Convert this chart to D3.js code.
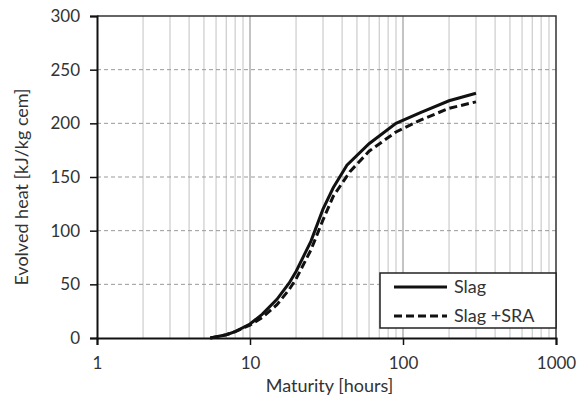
<!DOCTYPE html>
<html>
<head>
<meta charset="utf-8">
<script src="https://cdn.jsdelivr.net/npm/d3@7"></script>
<style>
  body { margin: 0; background: #fff; }
  text { font-family: Lato, "Open Sans", sans-serif; fill: #333; }
</style>
</head>
<body>
<div id="chart"></div>
<script>
let slag_x = [5.5, 7, 8, 10, 12, 15, 18, 20, 25, 30, 35, 43, 60, 90, 130, 200, 300];
let slag_y = [0, 3, 6, 13, 22, 36, 51, 62, 90, 120, 140, 161, 181, 200, 210, 221, 228];
let sra_x = [5.5, 7, 8, 10, 12, 15, 18, 20, 25, 30, 35, 45, 60, 90, 130, 200, 300];
let sra_y = [0, 3, 6, 12, 19, 31, 45, 55, 82, 110, 132, 155, 174, 192, 203, 214, 220];
let series_names = ["Slag", "Slag +SRA"];
let y_ticks = [0, 50, 100, 150, 200, 250, 300];
let x_ticks = [1, 10, 100, 1000];

let width = 579, height = 403;
let plot_left = 97, plot_right = 556, plot_top = 16, plot_bottom = 338;

let svg = d3.select("#chart").append("svg")
  .attr("width", width).attr("height", height);

let x = d3.scaleLog().domain([1, 1000]).range([plot_left, plot_right]);
let y = d3.scaleLinear().domain([0, 300]).range([plot_bottom, plot_top]);

// minor vertical grid
let minor = [];
for (let d = 1; d < 1000; d *= 10) {
  for (let k = 2; k <= 9; k++) minor.push(d * k);
}
svg.selectAll(".minor").data(minor).enter().append("line")
  .attr("x1", d => x(d)).attr("x2", d => x(d))
  .attr("y1", plot_top).attr("y2", plot_bottom)
  .style("stroke", "#d0d0d0").style("stroke-width", 1.3);

// major vertical grid
svg.selectAll(".major").data([10, 100]).enter().append("line")
  .attr("x1", d => x(d)).attr("x2", d => x(d))
  .attr("y1", plot_top).attr("y2", plot_bottom)
  .style("stroke", "#888").style("stroke-width", 1);

// horizontal dashed grid
svg.selectAll(".hgrid").data(y_ticks.slice(1, -1)).enter().append("line")
  .attr("x1", plot_left).attr("x2", plot_right)
  .attr("y1", d => y(d)).attr("y2", d => y(d))
  .style("stroke", "#999").style("stroke-width", 1)
  .style("stroke-dasharray", "4,3");

// frame top/right
svg.append("path")
  .attr("d", `M${plot_left},${plot_top}H${plot_right}V${plot_bottom}`)
  .style("fill", "none").style("stroke", "#333").style("stroke-width", 1.5);

// axes
let xAxis = svg.append("g").attr("transform", `translate(0,${plot_bottom})`)
  .call(d3.axisBottom(x).tickValues(x_ticks).tickFormat(d3.format("d")).tickSize(7).tickPadding(12));
let yAxis = svg.append("g").attr("transform", `translate(${plot_left},0)`)
  .call(d3.axisLeft(y).tickValues(y_ticks).tickSize(7).tickPadding(10));
[xAxis, yAxis].forEach(a => {
  a.select(".domain").style("stroke", "#111").style("stroke-width", 2);
  a.selectAll(".tick line").style("stroke", "#111").style("stroke-width", 1.5);
  a.selectAll(".tick text").style("font-size", "17px").style("font-family", "Lato").style("fill", "#333");
});

// lines
let line = d3.line().x(d => x(d[0])).y(d => y(d[1]));
svg.append("path").datum(d3.zip(slag_x, slag_y))
  .attr("d", line)
  .style("fill", "none").style("stroke", "#111").style("stroke-width", 3);
svg.append("path").datum(d3.zip(sra_x, sra_y))
  .attr("d", line)
  .style("fill", "none").style("stroke", "#111").style("stroke-width", 3)
  .style("stroke-dasharray", "8,4");

// titles
svg.append("text").attr("x", (plot_left + plot_right) / 2 + 3).attr("y", 392)
  .attr("text-anchor", "middle").style("font-size", "18px")
  .text("Maturity [hours]");
svg.append("text").attr("transform", `translate(28,187) rotate(-90)`)
  .attr("text-anchor", "middle").style("font-size", "18px")
  .text("Evolved heat [kJ/kg cem]");

// legend
let lg = svg.append("g");
lg.append("rect").attr("x", 380).attr("y", 273).attr("width", plot_right - 380).attr("height", 55)
  .style("fill", "#fff").style("stroke", "#222").style("stroke-width", 1.5);
series_names.forEach((name, i) => {
  let ly = 287 + i * 29;
  lg.append("line").attr("x1", 394).attr("x2", 447).attr("y1", ly).attr("y2", ly)
    .style("stroke", "#111").style("stroke-width", 3)
    .style("stroke-dasharray", i ? "8,4" : null);
  lg.append("text").attr("x", 454).attr("y", ly + 6).style("font-size", "18px").text(name);
});
</script>
</body>
</html>
